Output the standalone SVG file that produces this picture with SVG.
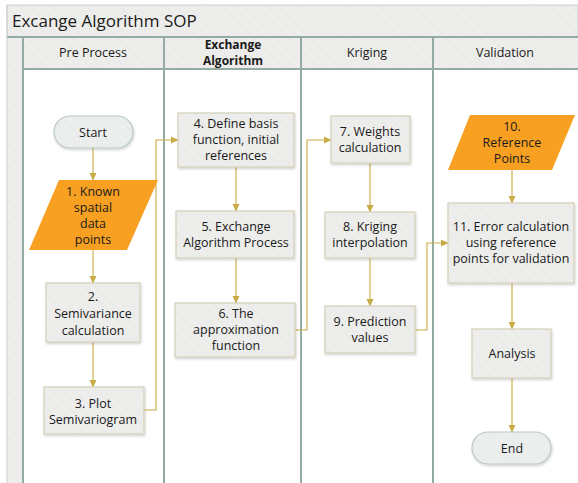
<svg xmlns="http://www.w3.org/2000/svg" width="578" height="483" viewBox="0 0 578 483">
<style>
text{font-family:"Open Sans","Noto Sans","Liberation Sans",sans-serif;font-size:12.5px;fill:#1a1a1a;text-anchor:middle}
.title{font-size:17px;text-anchor:start}
.hdr{font-size:12.5px}
.bold{font-weight:bold;font-size:12px}
.box{fill:url(#hatch);stroke:#D6CFB8;stroke-width:1.2;filter:url(#sh)}
.pill{fill:url(#hatch2);stroke:#B9C9C1;stroke-width:1.2;filter:url(#sh)}
.data{fill:#F7A021;stroke:none}
.lane{stroke:#93ABA3;stroke-width:2;fill:none}
.conn path{fill:none;stroke:#C9AB45;stroke-width:1.1;marker-end:url(#ar)}
</style>
<defs>
<pattern id="hatch" width="8" height="8" patternUnits="userSpaceOnUse" patternTransform="rotate(-45)">
<rect width="8" height="8" fill="#EDEDEB"/><line x1="0" y1="0" x2="0" y2="8" stroke="#E4E4E2" stroke-width="1"/>
</pattern>
<pattern id="hatch2" width="8" height="8" patternUnits="userSpaceOnUse" patternTransform="rotate(-45)">
<rect width="8" height="8" fill="#EBEEEC"/><line x1="0" y1="0" x2="0" y2="8" stroke="#E2E6E4" stroke-width="1"/>
</pattern>
<filter id="sh" x="-10%" y="-10%" width="125%" height="130%">
<feDropShadow dx="0.8" dy="1.5" stdDeviation="1" flood-color="#000" flood-opacity="0.18"/>
</filter>
<marker id="ar" markerWidth="8" markerHeight="8" refX="7" refY="4" orient="auto" markerUnits="userSpaceOnUse">
<path d="M0,0.5 L7.5,4 L0,7.5 Z" fill="#C9AB45"/>
</marker>
</defs>
<rect width="578" height="483" fill="#fff"/>
<g id="pool">
<rect x="7" y="5" width="571" height="32" fill="url(#hatch)" stroke="#C8D2CD" stroke-width="1"/>
<text class="title" x="12" y="27">Excange Algorithm SOP</text>
<rect x="7" y="37" width="16" height="446" fill="url(#hatch)"/>
<rect x="23" y="37" width="555" height="32" fill="url(#hatch)"/>
<line class="lane" x1="7" y1="37" x2="578" y2="37"/>
<line class="lane" x1="23" y1="69" x2="578" y2="69"/>
<line class="lane" x1="23" y1="37" x2="23" y2="483"/>
<line class="lane" x1="164" y1="37" x2="164" y2="483"/>
<line class="lane" x1="301" y1="37" x2="301" y2="483"/>
<line class="lane" x1="433" y1="37" x2="433" y2="483"/>
<line x1="7" y1="5" x2="7" y2="483" stroke="#C8D2CD" stroke-width="1"/>
<text class="hdr" x="93" y="57">Pre Process</text>
<text class="hdr bold" x="233" y="48.5">Exchange</text>
<text class="hdr bold" x="233" y="64.5">Algorithm</text>
<text class="hdr" x="367" y="57">Kriging</text>
<text class="hdr" x="505" y="57">Validation</text>
</g>
<g class="conn" id="connectors">
<path d="M93,148 V180"/>
<path d="M93,250 V283"/>
<path d="M93,342 V387"/>
<path d="M144,410 H156 V140 H178"/>
<path d="M236,167 V211"/>
<path d="M236,258 V303"/>
<path d="M295,330 H307 V140 H331"/>
<path d="M370,163 V212"/>
<path d="M370,258 V306"/>
<path d="M415,330 H427 V243 H448"/>
<path d="M512,170 V203"/>
<path d="M512,283 V329"/>
<path d="M512,378 V432"/>
</g>
<g id="start"><rect class="pill" x="54" y="116" width="79" height="32" rx="16"/><text x="93" y="136.5">Start</text></g>
<g id="n1"><polygon class="data" points="59,180 158,180 127,250 29,250"/>
<text x="93" y="196">1. Known</text><text x="93" y="212">spatial</text><text x="93" y="228">data</text><text x="93" y="244">points</text></g>
<g id="n2"><rect class="box" x="46" y="283" width="94" height="59"/>
<text x="93" y="301">2.</text><text x="93" y="318">Semivariance</text><text x="93" y="335">calculation</text></g>
<g id="n3"><rect class="box" x="44" y="387" width="100" height="47"/>
<text x="93" y="408">3. Plot</text><text x="93" y="424">Semivariogram</text></g>
<g id="n4"><rect class="box" x="178" y="113" width="116" height="54"/>
<text x="236" y="128">4. Define basis</text><text x="236" y="144">function, initial</text><text x="236" y="160">references</text></g>
<g id="n5"><rect class="box" x="176" y="211" width="118" height="47"/>
<text x="236" y="231">5. Exchange</text><text x="236" y="247">Algorithm Process</text></g>
<g id="n6"><rect class="box" x="175" y="303" width="120" height="54"/>
<text x="236" y="318">6. The</text><text x="236" y="334">approximation</text><text x="236" y="350">function</text></g>
<g id="n7"><rect class="box" x="331" y="116" width="79" height="47"/>
<text x="370" y="136">7. Weights</text><text x="370" y="152">calculation</text></g>
<g id="n8"><rect class="box" x="325" y="212" width="90" height="46"/>
<text x="370" y="231">8. Kriging</text><text x="370" y="247">interpolation</text></g>
<g id="n9"><rect class="box" x="325" y="306" width="90" height="47"/>
<text x="370" y="326">9. Prediction</text><text x="370" y="342">values</text></g>
<g id="n10"><polygon class="data" points="470,115 575,115 552,170 448,170"/>
<text x="512" y="131">10.</text><text x="512" y="147">Reference</text><text x="512" y="163">Points</text></g>
<g id="n11"><rect class="box" x="448" y="203" width="126" height="80"/>
<text x="511" y="231">11. Error calculation</text><text x="511" y="247">using reference</text><text x="511" y="263">points for validation</text></g>
<g id="analysis"><rect class="box" x="472" y="329" width="79" height="49"/><text x="512" y="358">Analysis</text></g>
<g id="end"><rect class="pill" x="472" y="432" width="79" height="32" rx="16"/><text x="512" y="453">End</text></g>
</svg>
